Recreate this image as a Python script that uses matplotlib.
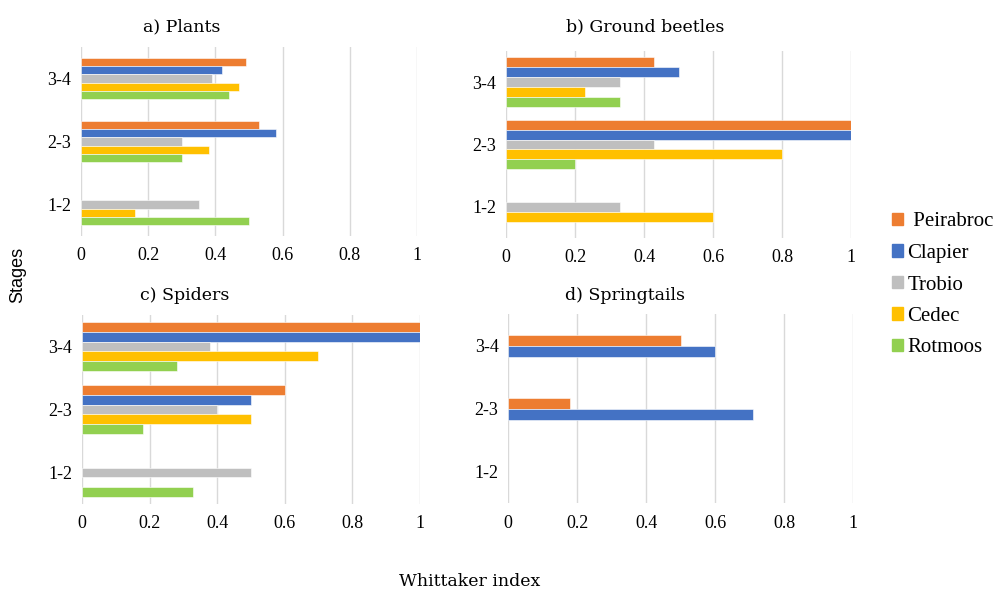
import matplotlib.pyplot as plt
from matplotlib.patches import Patch
import numpy as np

plt.rcParams['font.family'] = ['Liberation Serif', 'DejaVu Serif']

stages = ["1-2", "2-3", "3-4"]
series = ["Peirabroc", "Clapier", "Trobio", "Cedec", "Rotmoos"]
colors = ["#ED7D31", "#4472C4", "#BFBFBF", "#FFC000", "#92D050"]
nan = np.nan

# values per series, order of stages: 1-2, 2-3, 3-4
plants = {
    "Peirabroc": [nan, 0.53, 0.49],
    "Clapier":   [nan, 0.58, 0.42],
    "Trobio":    [0.35, 0.30, 0.39],
    "Cedec":     [0.16, 0.38, 0.47],
    "Rotmoos":   [0.50, 0.30, 0.44],
}
beetles = {
    "Peirabroc": [nan, 1.00, 0.43],
    "Clapier":   [nan, 1.00, 0.50],
    "Trobio":    [0.33, 0.43, 0.33],
    "Cedec":     [0.60, 0.80, 0.23],
    "Rotmoos":   [nan, 0.20, 0.33],
}
spiders = {
    "Peirabroc": [nan, 0.60, 1.00],
    "Clapier":   [nan, 0.50, 1.00],
    "Trobio":    [0.50, 0.40, 0.38],
    "Cedec":     [nan, 0.50, 0.70],
    "Rotmoos":   [0.33, 0.18, 0.28],
}
springtails = {
    "Peirabroc": [nan, 0.18, 0.50],
    "Clapier":   [nan, 0.71, 0.60],
}

panels = [
    ("a) Plants", plants, [0.0809, 0.600, 0.3357, 0.3203], 0.133, (182, 31)),
    ("b) Ground beetles", beetles, [0.5055, 0.5966, 0.3447, 0.3170], 0.16, (645, 31)),
    ("c) Spiders", spiders, [0.0819, 0.1458, 0.3374, 0.3203], 0.155, (185, 300)),
    ("d) Springtails", springtails, [0.5078, 0.1467, 0.3447, 0.3203], 0.175, (625, 300)),
]

fig = plt.figure(figsize=(10.01, 5.9), dpi=100)
W, H = 1001, 590

for title, data, rect, h, tpos in panels:
    ax = fig.add_axes(rect)
    present = [s for s in series if s in data]
    n = len(present)
    y = np.arange(len(stages))
    for i, s in enumerate(present):
        off = ((n - 1) / 2 - i) * h
        c = colors[series.index(s)]
        ax.barh(y + off, data[s], height=h, color=c, edgecolor="white", linewidth=0.4, zorder=3)
    ax.set_xlim(0, 1)
    ax.set_ylim(-0.5, 2.5)
    ax.set_xticks([0, 0.2, 0.4, 0.6, 0.8, 1])
    ax.set_xticklabels(["0", "0.2", "0.4", "0.6", "0.8", "1"])
    ax.set_yticks(y)
    ax.set_yticklabels(stages)
    ax.tick_params(length=0, labelsize=13, pad=8)
    ax.tick_params(axis="y", pad=7)
    ax.grid(axis="x", color="#D9D9D9", linewidth=1, zorder=0)
    for sp in ax.spines.values():
        sp.set_visible(False)
    fig.text(tpos[0] / W, 1 - tpos[1] / H, title, ha="center", va="baseline",
             fontsize=12.5, family="DejaVu Serif")

handles = [Patch(color=c) for c in colors]
labels = [" " + series[0]] + series[1:]
fig.legend(handles, labels, loc="center left", bbox_to_anchor=(892 / W, 1 - 285 / H),
           frameon=False, fontsize=15, handlelength=0.55, handleheight=0.55,
           handletextpad=0.2, labelspacing=0.6, borderaxespad=0, borderpad=0)

fig.text(18 / W, 1 - 275 / H, "Stages", rotation=90, ha="center", va="center",
         fontsize=13, family="Liberation Sans")
fig.text(470 / W, 1 - 586 / H, "Whittaker index", ha="center", va="baseline",
         fontsize=12.5, family="DejaVu Serif")

fig.savefig("out.png", dpi=100)
